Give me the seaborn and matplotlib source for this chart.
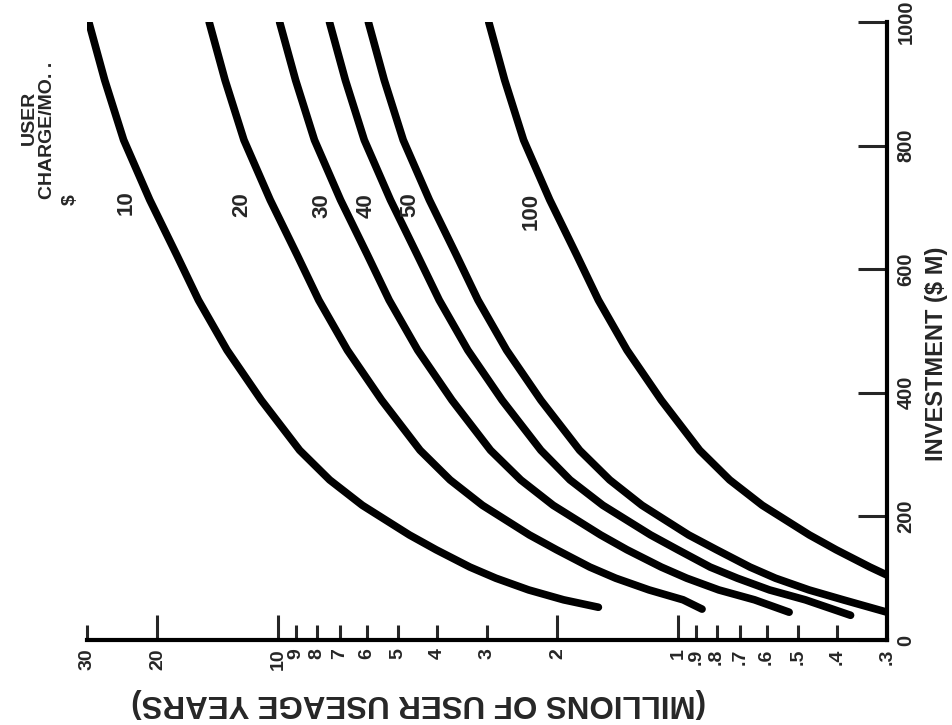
import numpy as np
import pandas as pd
import matplotlib
matplotlib.use("Agg")
import matplotlib.pyplot as plt
import seaborn as sns
from matplotlib.ticker import FixedLocator, FixedFormatter

sns.set_theme(style="white")
FONT = ['Liberation Sans', 'DejaVu Sans']
plt.rcParams['font.family'] = FONT

# ---- data ----
charges = [10, 20, 30, 40, 50, 100]
inv_10 = [1000, 906, 809, 712, 623, 550, 469, 388, 307, 259, 218, 170, 146, 118, 100, 81, 65, 53]
use_10 = [29.7, 27.1, 24.3, 20.9, 17.9, 15.8, 13.4, 11.0, 8.82, 7.42, 6.15, 4.69,
          4.02, 3.31, 2.85, 2.36, 1.93, 1.58]
inv_20 = [1000, 906, 809, 712, 623, 550, 469, 388, 307, 259, 218, 170, 146, 118, 100, 81, 65, 50]
use_20 = [14.85, 13.55, 12.15, 10.45, 8.95, 7.9, 6.7, 5.5, 4.41, 3.71, 3.08, 2.35,
          2.01, 1.66, 1.43, 1.18, 0.97, 0.87]
inv_30 = [1000, 906, 809, 712, 623, 550, 469, 388, 307, 259, 218, 170, 146, 118, 100, 81, 65, 45]
use_30 = [9.9, 9.03, 8.1, 6.97, 5.97, 5.27, 4.47, 3.67, 2.94, 2.47, 2.05, 1.56,
          1.34, 1.10, 0.95, 0.79, 0.643, 0.527]
inv_40 = [1000, 906, 809, 712, 623, 550, 469, 388, 307, 259, 218, 170, 146, 118, 100, 81, 65, 40]
use_40 = [7.43, 6.78, 6.08, 5.23, 4.48, 3.95, 3.35, 2.75, 2.2, 1.86, 1.54, 1.17,
          1.0, 0.83, 0.71, 0.59, 0.48, 0.37]
inv_50 = [1000, 906, 809, 712, 623, 550, 469, 388, 307, 259, 218, 170, 146, 118, 100, 81, 65, 45]
use_50 = [5.94, 5.42, 4.86, 4.18, 3.58, 3.16, 2.68, 2.2, 1.76, 1.48, 1.23, 0.94,
          0.80, 0.66, 0.57, 0.47, 0.386, 0.30]
inv_100 = [1000, 906, 809, 712, 623, 550, 469, 388, 307, 259, 218, 170, 146, 118, 105]
use_100 = [2.97, 2.71, 2.43, 2.09, 1.79, 1.58, 1.34, 1.1, 0.882, 0.742, 0.615, 0.469,
           0.402, 0.331, 0.30]

usage_ticks = [30, 20, 10, 9, 8, 7, 6, 5, 4, 3, 2, 1, .9, .8, .7, .6, .5, .4, .3]
usage_labels = ["30", "20", "10", "9", "8", "7", "6", "5", "4", "3", "2",
                "1", ".9", ".8", ".7", ".6", ".5", ".4", ".3"]
inv_ticks = [0, 200, 400, 600, 800, 1000]
inv_labels = ["0", "200", "400", "600", "800", "1000"]

# curve label positions (usage, investment)
label_use = [24.0, 12.3, 7.77, 6.0, 4.67, 2.33]
label_inv = [707, 705, 703, 703, 705, 694]

frames = []
for c, u, i in zip(charges,
                   [use_10, use_20, use_30, use_40, use_50, use_100],
                   [inv_10, inv_20, inv_30, inv_40, inv_50, inv_100]):
    frames.append(pd.DataFrame({"charge": c, "usage": u, "investment": i}))
df = pd.concat(frames, ignore_index=True)

W, H = 952, 725
fig = plt.figure(figsize=(W / 100, H / 100), dpi=100)
ax = fig.add_axes([87 / W, (H - 640) / H, 800 / W, 618 / H])

sns.lineplot(data=df, x="usage", y="investment", hue="charge",
             palette=["black"] * len(charges), estimator=None,
             sort=False, legend=False, lw=5.5, ax=ax,
             solid_capstyle="round", solid_joinstyle="round")

ax.set_xscale("log")
ax.set_xlim(30, 0.3)
ax.set_ylim(0, 1000)

for s in ["top", "left"]:
    ax.spines[s].set_visible(False)
for s in ["bottom", "right"]:
    ax.spines[s].set_linewidth(3)
    ax.spines[s].set_color("black")

long_ticks = [20, 10, 2, 1]
short_ticks = [t for t in usage_ticks if t not in long_ticks]
ax.xaxis.set_major_locator(FixedLocator(long_ticks))
ax.xaxis.set_major_formatter(FixedFormatter([usage_labels[usage_ticks.index(t)] for t in long_ticks]))
ax.xaxis.set_minor_locator(FixedLocator(short_ticks))
ax.xaxis.set_minor_formatter(FixedFormatter([usage_labels[usage_ticks.index(t)] for t in short_ticks]))

ax.tick_params(axis='x', which='major', direction='in', length=18, width=2.2,
               pad=6, labelsize=14, labelrotation=90, bottom=True, top=False)
ax.tick_params(axis='x', which='minor', direction='in', length=11, width=2.2,
               pad=6, labelsize=14, labelrotation=90, bottom=True, top=False)
for lab in ax.get_xticklabels(which='both'):
    lab.set_fontweight('bold')

ax.yaxis.set_major_locator(FixedLocator(inv_ticks))
ax.yaxis.set_major_formatter(FixedFormatter(inv_labels))
ax.yaxis.tick_right()
ax.tick_params(axis='y', which='major', direction='in', length=21, width=2.2,
               pad=7, labelsize=14.5, labelrotation=90, right=True, left=False)
for lab in ax.get_yticklabels():
    lab.set_fontweight('bold')
    lab.set_va('center')

ax.set_xlabel("")
ax.set_ylabel("")

lab_font = dict(family=FONT, weight='bold')
for c, lu, li in zip(charges, label_use, label_inv):
    ax.text(lu, li, str(c), rotation=90, ha='center', va='center',
            fontsize=16, **lab_font)

fig.text(419 / W, 1 - 703 / H, "(MILLIONS OF USER USEAGE YEARS)", rotation=180,
         ha='center', va='center', fontsize=22.5, **lab_font)
fig.text(937 / W, 1 - 354 / H, "INVESTMENT ($ M)", rotation=90,
         ha='center', va='center', fontsize=17, **lab_font)
fig.text(29 / W, 1 - 118 / H, "USER", rotation=90,
         ha='center', va='center', fontsize=14, **lab_font)
fig.text(48 / W, 1 - 130 / H, "CHARGE/MO. .", rotation=90,
         ha='center', va='center', fontsize=14, **lab_font)
fig.text(70 / W, 1 - 200 / H, "$", rotation=90,
         ha='center', va='center', fontsize=14, **lab_font)

fig.savefig("out.png", dpi=100, facecolor="white")
